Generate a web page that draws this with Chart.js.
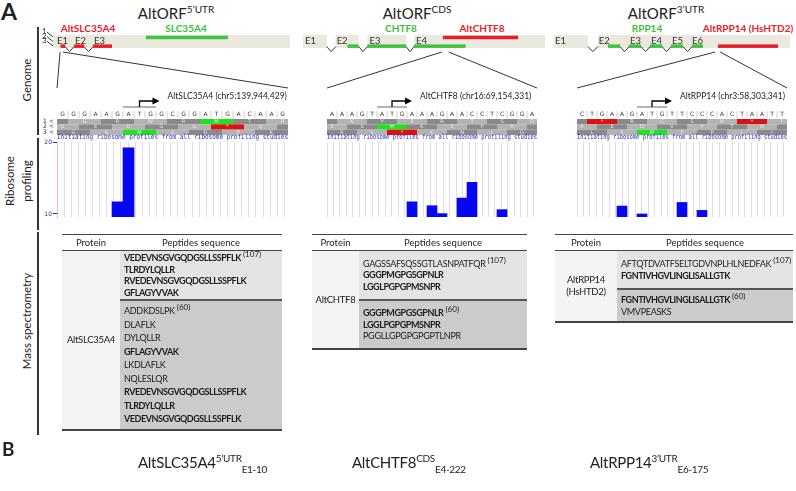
<!DOCTYPE html>
<html>
<head>
<meta charset="utf-8">
<script src="https://cdn.jsdelivr.net/npm/chart.js@4.4.0/dist/chart.umd.min.js"></script>
<style>
  body { margin:0; width:796px; height:491px; position:relative; overflow:hidden; background:#fff;
         font-family:Lato,'Liberation Sans',sans-serif; color:#222; }
  .a { position:absolute; white-space:nowrap; }
  canvas { position:absolute; }
  .title { font-size:15px; transform:translateX(-50%); top:4px; }
  .title sup { font-size:10px; vertical-align:6px; line-height:0; }
  .gene { font-size:10px; font-weight:bold; transform:translate(-50%,-50%); top:28px; }
  .rot { transform:translate(-50%,-50%) rotate(-90deg); font-size:11.5px; text-align:center; line-height:17px; }
  .vline { position:absolute; left:37px; width:1.5px; background:#333; }
  table { position:absolute; border-collapse:collapse; font-size:9px; letter-spacing:-0.3px; color:#1c1c1c;
          border-top:1.5px solid #444; border-bottom:2px solid #444; }
  th { font-weight:normal; font-size:9.5px; letter-spacing:0; height:15px; border-bottom:1.5px solid #444; padding:0; background:#fff; }
  td { padding:0 0 0 4px; vertical-align:middle; white-space:nowrap; }
  td b { letter-spacing:-0.45px; }
  td.pr { background:#f4f4f4; text-align:center; padding:0; line-height:12px; font-size:9.5px; }
  td.g1 { background:#e4e4e4; line-height:11.5px; }
  td.g2 { background:#cbcbcb; border-top:2px solid #555; line-height:11.5px; }
  sup.n { font-size:8px; vertical-align:4px; line-height:0; font-weight:normal; letter-spacing:0; }
  .bl { font-size:15px; top:453px; letter-spacing:-0.3px; }
  .bl sup { font-size:10px; vertical-align:6px; line-height:0; }
  .bl sub { font-size:10px; vertical-align:-5px; line-height:0; }
</style>
</head>
<body>
<div class="a" style="left:1px;top:-3px;font:bold 23px Lato;">A</div>
<div class="a title" style="left:176px">AltORF<sup>5’UTR</sup></div>
<div class="a title" style="left:417px">AltORF<sup>CDS</sup></div>
<div class="a title" style="left:666px">AltORF<sup>3’UTR</sup></div>

<div class="a gene" style="left:88px;color:#e8202a">AltSLC35A4</div>
<div class="a gene" style="left:186px;color:#3cbf3c">SLC35A4</div>
<div class="a gene" style="left:401px;color:#3cbf3c">CHTF8</div>
<div class="a gene" style="left:482px;color:#e8202a">AltCHTF8</div>
<div class="a gene" style="left:647px;color:#3cbf3c">RPP14</div>
<div class="a gene" style="left:748px;color:#e8202a">AltRPP14 (HsHTD2)</div>

<div class="a rot" style="left:26px;top:80px">Genome</div>
<div class="a rot" style="left:18px;top:181px">Ribosome<br>profiling</div>
<div class="a rot" style="left:26px;top:321px">Mass spectrometry</div>
<div class="vline" style="top:27px;height:108px"></div>
<div class="vline" style="top:138px;height:92px"></div>
<div class="vline" style="top:232px;height:203px"></div>

<canvas id="g1" width="237" height="26" style="left:53px;top:30px"></canvas>
<canvas id="g2" width="242" height="26" style="left:303px;top:30px"></canvas>
<canvas id="g3" width="236" height="26" style="left:554px;top:30px"></canvas>
<canvas id="r1" width="256" height="134" style="left:36px;top:88px"></canvas>
<canvas id="r2" width="241" height="134" style="left:300px;top:88px"></canvas>
<canvas id="r3" width="246" height="134" style="left:550px;top:88px"></canvas>
<canvas id="ov" width="796" height="491" style="left:0;top:0;pointer-events:none"></canvas>

<table style="left:62px;top:234px;width:220px">
  <tr><th style="width:58px">Protein</th><th>Peptides sequence</th></tr>
  <tr><td class="pr" rowspan="2">AltSLC35A4</td>
      <td class="g1" style="height:48px"><b>VEDEVNSGVGQDGSLLSSPFLK</b> <sup class="n">(107)</sup><br><b>TLRDYLQLLR</b><br><b>RVEDEVNSGVGQDGSLLSSPFLK</b><br><b>GFLAGYVVAK</b></td></tr>
  <tr><td class="g2" style="height:128px;line-height:13.5px">ADDKDSLPK <sup class="n">(60)</sup><br>DLAFLK<br>DYLQLLR<br><b>GFLAGYVVAK</b><br>LKDLAFLK<br>NQLESLQR<br><b>RVEDEVNSGVGQDGSLLSSPFLK</b><br><b>TLRDYLQLLR</b><br><b>VEDEVNSGVGQDGSLLSSPFLK</b></td></tr>
</table>

<table style="left:312px;top:234px;width:215px">
  <tr><th style="width:47px">Protein</th><th>Peptides sequence</th></tr>
  <tr><td class="pr" rowspan="2">AltCHTF8</td>
      <td class="g1" style="height:48px">GAGSSAFSQSSGTLASNPATFQR <sup class="n">(107)</sup><br><b>GGGPMGPGSGPNLR</b><br><b>LGGLPGPGPMSNPR</b></td></tr>
  <tr><td class="g2" style="height:47px"><b>GGGPMGPGSGPNLR</b> <sup class="n">(60)</sup><br><b>LGGLPGPGPMSNPR</b><br>PGGLLGPGPGPGPTLNPR</td></tr>
</table>

<table style="left:555px;top:234px;width:238px">
  <tr><th style="width:62px">Protein</th><th>Peptides sequence</th></tr>
  <tr><td class="pr" rowspan="2">AltRPP14<br>(HsHTD2)</td>
      <td class="g1" style="height:37px">AFTQTDVATFSELTGDVNPLHLNEDFAK <sup class="n">(107)</sup><br><b>FGNTIVHGVLINGLISALLGTK</b></td></tr>
  <tr><td class="g2" style="height:31px"><b>FGNTIVHGVLINGLISALLGTK</b> <sup class="n">(60)</sup><br>VMVPEASKS</td></tr>
</table>

<div class="a" style="left:2px;top:437px;font:bold 19px Lato;">B</div>
<div class="a bl" style="left:138px">AltSLC35A4<sup>5’UTR</sup><sub>E1-10</sub></div>
<div class="a bl" style="left:352px">AltCHTF8<sup>CDS</sup><sub>E4-222</sub></div>
<div class="a bl" style="left:590px">AltRPP14<sup>3’UTR</sup><sub>E6-175</sub></div>

<script>
// ---- genome schematics (positions in panel units, 0-100 along the grey band)
const bandSLC = [[0, 100]];
const cdsSLC = [[39.2, 73.8]];
const altSLC = [[3.2, 5.1], [8.9, 13.1], [16.9, 24.9]];
const intronSLC = [[5.1, 8.9], [13.1, 16.9]];
const exonNameSLC = ['E1', 'E2', 'E3'];
const exonPosSLC = [1.7, 9.3, 17.3];
const zoomSLC = [3.0, 4.2];

const bandCHTF = [[0, 9.8], [13.5, 23], [26.6, 42.6], [45.9, 100]];
const cdsCHTF = [[18.4, 23], [26.6, 42.6], [45.9, 67.2]];
const altCHTF = [[57.8, 88.9]];
const intronCHTF = [[9.8, 13.5], [23, 26.6], [42.6, 45.9]];
const exonNameCHTF = ['E1', 'E2', 'E3', 'E4'];
const exonPosCHTF = [0.8, 13.9, 27.5, 46.7];
const zoomCHTF = [57.4, 60.2];

const bandRPP = [[0, 14.4], [18.6, 100]];
const cdsRPP = [[22.9, 28], [31.8, 36.9], [40.7, 45.8], [49.6, 54.7], [58.5, 63.1]];
const altRPP = [[69.5, 94.9]];
const intronRPP = [[14.4, 18.6], [28, 31.8], [36.9, 40.7], [45.8, 49.6], [54.7, 58.5]];
const exonNameRPP = ['E1', 'E2', 'E3', 'E4', 'E5', 'E6'];
const exonPosRPP = [0.4, 19, 32.2, 41.1, 50, 58.5];
const zoomRPP = [68.3, 70.4];

// ---- sequence around each alternative start codon
const seqSLC = 'GGGAAGATGGCGGATGACAAG'.split('');
const seqCHTF = 'AAAGTATGAAAGAACCTCGGA'.split('');
const seqRPP = 'CTGAAGATGTTCCCACTAATT'.split('');
// translated reading frames (frame rows start at base -2, -1, 0)
const aaSLC = ['-GRWRMTR', 'GEDGG*Q-', 'GKMADDK'];
const aaCHTF = ['-KYERTSD', 'ESMKEPR-', 'KV*KNLG'];
const aaRPP = ['-*RCSH*F', 'AEDVPTN-', 'LKMFPLI'];
const atgSLC = 6, atgCHTF = 5, atgRPP = 6;
const locSLC = 'AltSLC35A4 (chr5:139,944,429)';
const locCHTF = 'AltCHTF8 (chr16:69,154,331)';
const locRPP = 'AltRPP14 (chr3:58,303,341)';

// ---- initiating ribosome profiles (base index, signal)
const riboPosSLC = [5, 6];
const riboValSLC = [11.7, 19.2];
const riboPosCHTF = [8, 10, 11, 13, 14, 17];
const riboValCHTF = [11.7, 11.15, 10.05, 12.2, 14.4, 10.6];
const riboPosRPP = [4, 6, 10, 12];
const riboValRPP = [11.1, 10.0, 11.6, 10.5];
const riboTicks = [10, 20];

const GREEN = '#3cc43c', RED = '#ea1c24';

const geneTrack = {
  id: 'geneTrack',
  afterDraw(chart, args, o) {
    const { ctx, scales: { x, y } } = chart;
    const px = v => x.getPixelForValue(v), py = v => y.getPixelForValue(v);
    ctx.save();
    ctx.fillStyle = '#ebe8de';
    o.band.forEach(([s, e]) => ctx.fillRect(px(s), py(5), px(e) - px(s), py(18) - py(5)));
    ctx.font = '9.5px Lato';
    ctx.fillStyle = '#333';
    ctx.textBaseline = 'middle';
    o.names.forEach((t, i) => ctx.fillText(t, px(o.namePos[i]), py(10.8)));
    const rows = { 1: [5.7, 9.2], 3: [14.4, 17.9] };
    o.tracks.forEach(t => {
      ctx.fillStyle = t.color;
      t.ranges.forEach(([s, e]) => ctx.fillRect(px(s), py(rows[t.row][0]), px(e) - px(s), py(rows[t.row][1]) - py(rows[t.row][0])));
    });
    ctx.strokeStyle = '#333';
    ctx.lineWidth = 1;
    o.introns.forEach(([s, e]) => {
      ctx.beginPath();
      ctx.moveTo(px(s), py(16.6));
      ctx.lineTo(px((s + e) / 2), py(21.6));
      ctx.lineTo(px(e), py(16.6));
      ctx.stroke();
    });
    ctx.restore();
  }
};

function genomeChart(id, opts) {
  return new Chart(document.getElementById(id), {
    type: 'scatter',
    data: { datasets: [] },
    options: {
      responsive: false, animation: false, events: [],
      layout: { padding: 0 },
      plugins: { legend: { display: false }, tooltip: { enabled: false }, geneTrack: opts },
      scales: {
        x: { type: 'linear', min: 0, max: 100, display: false },
        y: { type: 'linear', min: 0, max: 26, reverse: true, display: false }
      }
    },
    plugins: [geneTrack]
  });
}

const seqTrack = {
  id: 'seqTrack',
  afterDraw(chart, args, o) {
    const { ctx, chartArea: a, scales: { x } } = chart;
    const n = chart.data.labels.length;
    const w = a.width / n;
    const colL = i => x.getPixelForValue(i) - w / 2;
    ctx.save();
    // promoter arrow and locus
    const ax = x.getPixelForValue(o.atg + 1);
    ctx.strokeStyle = '#9a9a9a'; ctx.lineWidth = 1.5;
    ctx.beginPath(); ctx.moveTo(colL(o.atg), a.top - 35); ctx.lineTo(colL(o.atg + 3), a.top - 35); ctx.stroke();
    ctx.strokeStyle = '#000'; ctx.lineWidth = 1.3;
    ctx.beginPath(); ctx.moveTo(ax, a.top - 35); ctx.lineTo(ax, a.top - 41); ctx.lineTo(ax + 14, a.top - 41); ctx.stroke();
    ctx.fillStyle = '#000';
    ctx.beginPath(); ctx.moveTo(ax + 20, a.top - 41); ctx.lineTo(ax + 13, a.top - 44.5); ctx.lineTo(ax + 13, a.top - 37.5); ctx.closePath(); ctx.fill();
    ctx.font = '8.5px Lato'; ctx.textBaseline = 'middle'; ctx.textAlign = 'left'; ctx.fillStyle = '#222';
    ctx.fillText(o.label, ax + 28, a.top - 46);
    // bases
    ctx.textAlign = 'center';
    ctx.font = '6px "DejaVu Sans"';
    o.seq.forEach((b, i) => {
      const cx = x.getPixelForValue(i);
      ctx.fillStyle = '#333';
      ctx.fillText(b, cx, a.top - 27.5);
      ctx.fillStyle = '#d0d0d0';
      if (i < n - 1) ctx.fillRect(cx + w / 2 - 0.5, a.top - 31, 1, 7);
    });
    // reading frames
    const starts = [-2, -1, 0];
    ctx.font = '5px "DejaVu Sans"';
    o.aa.forEach((row, r) => {
      const y0 = a.top - 23 + r * 5.33;
      [...row].forEach((aa, k) => {
        const c0 = starts[r] + 3 * k;
        const l = Math.max(colL(c0), a.left), rr = Math.min(colL(c0 + 3), a.right);
        if (rr <= l) return;
        ctx.fillStyle = aa === 'M' ? '#22e022' : aa === '*' ? '#dd1111' : ((k + r) % 2 ? '#b3b3b3' : '#8a8a8a');
        ctx.fillRect(l, y0, rr - l, 5.33);
        if (aa !== '-') {
          ctx.fillStyle = '#e8e8e8';
          ctx.fillText(aa, x.getPixelForValue(c0 + 1), y0 + 2.8);
        }
      });
    });
    if (o.frameLabels) {
      ctx.fillStyle = '#333';
      ctx.font = '6px "DejaVu Sans"';
      ctx.textAlign = 'left';
      ['1', '2', '3'].forEach((t, r) => {
        ctx.fillText(t, a.left - 14, a.top - 20.5 + r * 5.33);
        ctx.fillText('<', a.left - 8, a.top - 20.5 + r * 5.33);
      });
    }
    // study label
    ctx.fillStyle = '#2424d0';
    ctx.font = '7px "DejaVu Sans Mono"';
    ctx.textAlign = 'left';
    const txt = 'Initiating ribosome profiles from all ribosome profiling studies';
    const tw = ctx.measureText(txt).width;
    ctx.translate(a.left, a.top - 4.5);
    ctx.scale(a.width / tw, 1);
    ctx.fillText(txt, 0, 0);
    ctx.restore();
  }
};

function riboChart(id, seq, aa, pos, val, atg, label, showAxis, padL, padR) {
  const data = seq.map(() => null);
  pos.forEach((p, i) => { data[p] = val[i]; });
  return new Chart(document.getElementById(id), {
    type: 'bar',
    data: {
      labels: seq.map((b, i) => i),
      datasets: [{ data, backgroundColor: '#0606f2', borderWidth: 0, barPercentage: 1, categoryPercentage: 1 }]
    },
    options: {
      responsive: false, animation: false, events: [],
      layout: { padding: { top: 54, bottom: 5, left: padL, right: padR } },
      plugins: {
        legend: { display: false }, tooltip: { enabled: false },
        seqTrack: { seq, aa, atg, label, frameLabels: showAxis }
      },
      scales: {
        x: { display: false },
        g: {
          type: 'linear', position: 'bottom', min: 0, max: 31.5,
          afterBuildTicks: s => { s.ticks = Array.from({ length: 32 }, (v, i) => ({ value: i })); },
          afterFit: s => { s.height = 0; },
          ticks: { display: false },
          grid: { color: '#dcdcf3', drawTicks: false },
          border: { display: false }
        },
        y: {
          display: showAxis, min: 9.58, max: 20,
          afterBuildTicks: s => { s.ticks = riboTicks.map(v => ({ value: v })); },
          afterFit: s => { s.width = 21; },
          ticks: { color: '#2a2ab0', font: { size: 6, family: 'DejaVu Sans' }, padding: 1 },
          grid: { drawOnChartArea: false, tickLength: 4, color: '#2a2ab0' },
          border: { color: '#f2b3b3' }
        }
      }
    },
    plugins: [seqTrack]
  });
}

const g1 = genomeChart('g1', { band: bandSLC, names: exonNameSLC, namePos: exonPosSLC, introns: intronSLC,
  tracks: [{ row: 1, color: GREEN, ranges: cdsSLC }, { row: 3, color: RED, ranges: altSLC }] });
const g2 = genomeChart('g2', { band: bandCHTF, names: exonNameCHTF, namePos: exonPosCHTF, introns: intronCHTF,
  tracks: [{ row: 3, color: GREEN, ranges: cdsCHTF }, { row: 1, color: RED, ranges: altCHTF }] });
const g3 = genomeChart('g3', { band: bandRPP, names: exonNameRPP, namePos: exonPosRPP, introns: intronRPP,
  tracks: [{ row: 3, color: GREEN, ranges: cdsRPP }, { row: 3, color: RED, ranges: altRPP }] });

const r1 = riboChart('r1', seqSLC, aaSLC, riboPosSLC, riboValSLC, atgSLC, locSLC, true, 0, 4);
const r2 = riboChart('r2', seqCHTF, aaCHTF, riboPosCHTF, riboValCHTF, atgCHTF, locCHTF, false, 6, 4);
const r3 = riboChart('r3', seqRPP, aaRPP, riboPosRPP, riboValRPP, atgRPP, locRPP, false, 6, 9);

// zoom lines from the genome start codon down to the sequence view
const ov = document.getElementById('ov').getContext('2d');
ov.strokeStyle = '#333';
ov.lineWidth = 1;
[[g1, r1, zoomSLC], [g2, r2, zoomCHTF], [g3, r3, zoomRPP]].forEach(([g, r, z]) => {
  const gx = g.canvas.offsetLeft, gy = g.canvas.offsetTop;
  const rx = r.canvas.offsetLeft, ry = r.canvas.offsetTop;
  const top = gy + g.scales.y.getPixelForValue(22);
  ov.beginPath();
  ov.moveTo(gx + g.scales.x.getPixelForValue(z[0]), top);
  ov.lineTo(rx + r.chartArea.left, ry);
  ov.moveTo(gx + g.scales.x.getPixelForValue(z[1]), top);
  ov.lineTo(rx + r.chartArea.right, ry);
  ov.stroke();
});
// frame numbers beside the first genome track
ov.font = '8px Lato';
ov.fillStyle = '#333';
['1', '2', '3'].forEach((t, i) => {
  ov.fillText(t, 42, 34 + i * 4.6);
  ov.beginPath();
  ov.moveTo(47, 32 + i * 4.6);
  ov.lineTo(53, 37 + i * 4.5);
  ov.stroke();
});
</script>
</body>
</html>
